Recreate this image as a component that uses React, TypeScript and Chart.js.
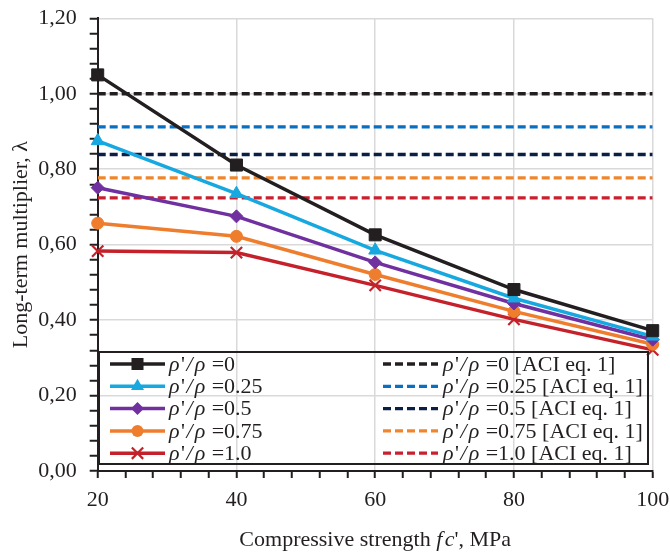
import React, { useEffect, useRef } from 'react';
import { Chart, registerables } from 'chart.js';

Chart.register(...registerables);

// ---- data ----
const strengths = [20, 40, 60, 80, 100];
const ratioLabels = ['0', '0.25', '0.5', '0.75', '1.0'];
const lambdaR0 = [1.05, 0.811, 0.626, 0.481, 0.372];
const lambdaR025 = [0.875, 0.735, 0.585, 0.458, 0.357];
const lambdaR05 = [0.751, 0.675, 0.553, 0.444, 0.348];
const lambdaR075 = [0.657, 0.622, 0.521, 0.423, 0.336];
const lambdaR10 = [0.583, 0.579, 0.492, 0.402, 0.321];
const aciValues = [1.0, 0.912, 0.839, 0.777, 0.724];
const xLimits = [20, 100];
const yLimits = [0, 1.2];

const FONT = '"Liberation Serif", "Times New Roman", serif';
const INK = '#231f20';

const solidColors = ['#231f20', '#17a8e0', '#7030a0', '#ef7d2e', '#c4212a'];
const dashColors = ['#231f20', '#0a6fc2', '#0b1e45', '#f0862c', '#c8202e'];
const pointStyles = ['rect', 'triangle', 'rectRot', 'circle', 'crossRot'];
const pointRadii = [8.5, 7.5, 6.5, 6, 8];
const seriesValues = [lambdaR0, lambdaR025, lambdaR05, lambdaR075, lambdaR10];

function drawMarker(ctx: CanvasRenderingContext2D, style: string, x: number, y: number, r: number, color: string) {
  ctx.save();
  ctx.fillStyle = color;
  ctx.strokeStyle = color;
  ctx.lineWidth = style === 'crossRot' ? 2.2 : 1;
  ctx.setLineDash([]);
  ctx.beginPath();
  if (style === 'rect') {
    const s = r * Math.SQRT1_2;
    ctx.rect(x - s, y - s, 2 * s, 2 * s);
    ctx.fill();
  } else if (style === 'triangle') {
    for (let k = 0; k < 3; k++) {
      const a = (k * 2 * Math.PI) / 3;
      const px = x + Math.sin(a) * r;
      const py = y - Math.cos(a) * r;
      if (k === 0) ctx.moveTo(px, py); else ctx.lineTo(px, py);
    }
    ctx.closePath();
    ctx.fill();
  } else if (style === 'rectRot') {
    ctx.moveTo(x, y - r);
    ctx.lineTo(x + r, y);
    ctx.lineTo(x, y + r);
    ctx.lineTo(x - r, y);
    ctx.closePath();
    ctx.fill();
  } else if (style === 'circle') {
    ctx.arc(x, y, r, 0, Math.PI * 2);
    ctx.fill();
  } else if (style === 'crossRot') {
    const o = r * Math.SQRT1_2;
    ctx.moveTo(x - o, y - o);
    ctx.lineTo(x + o, y + o);
    ctx.moveTo(x + o, y - o);
    ctx.lineTo(x - o, y + o);
    ctx.stroke();
  }
  ctx.restore();
}

type Piece = { t: string; it?: boolean; gap?: number };

function drawRich(ctx: CanvasRenderingContext2D, x: number, y: number, pieces: Piece[], size: number, align: 'left' | 'center' = 'left') {
  ctx.save();
  ctx.textBaseline = 'middle';
  ctx.textAlign = 'left';
  ctx.fillStyle = INK;
  let total = 0;
  for (const p of pieces) {
    ctx.font = `${p.it ? 'italic ' : ''}${size}px ${FONT}`;
    total += ctx.measureText(p.t).width + (p.gap || 0);
  }
  let cx = align === 'center' ? x - total / 2 : x;
  for (const p of pieces) {
    ctx.font = `${p.it ? 'italic ' : ''}${size}px ${FONT}`;
    ctx.fillText(p.t, cx, y);
    cx += ctx.measureText(p.t).width + (p.gap || 0);
  }
  ctx.restore();
}

function rhoPieces(label: string, suffix: string): Piece[] {
  return [
    { t: 'ρ', it: true, gap: 1.5 },
    { t: "'", gap: 1.5 },
    { t: '/', it: true, gap: 2 },
    { t: 'ρ', it: true, gap: 1 },
    { t: ' =' + label + suffix },
  ];
}

const decorPlugin = {
  id: 'decor',
  afterDraw(chart: any) {
    const ctx: CanvasRenderingContext2D = chart.ctx;
    const area = chart.chartArea;
    // y title
    ctx.save();
    ctx.translate(21, (area.top + area.bottom) / 2);
    ctx.rotate(-Math.PI / 2);
    ctx.font = `22px ${FONT}`;
    ctx.fillStyle = INK;
    ctx.textAlign = 'center';
    ctx.textBaseline = 'middle';
    ctx.fillText('Long-term multiplier, λ', 0, 0);
    ctx.restore();
    // x title
    drawRich(
      ctx,
      (area.left + area.right) / 2,
      540,
      [{ t: 'Compressive strength ' }, { t: 'f', it: true, gap: 2.5 }, { t: 'c', it: true }, { t: "', MPa" }],
      22,
      'center'
    );
    // legend box
    const bx = 99, by = 352, bw = 549, bh = 112;
    ctx.save();
    ctx.strokeStyle = INK;
    ctx.lineWidth = 2;
    ctx.strokeRect(bx, by, bw, bh);
    ctx.restore();
    for (let i = 0; i < 5; i++) {
      const ry = 364 + i * 22.3;
      // left column: solid with marker
      ctx.save();
      ctx.strokeStyle = solidColors[i];
      ctx.lineWidth = 3.5;
      ctx.beginPath();
      ctx.moveTo(110, ry);
      ctx.lineTo(165, ry);
      ctx.stroke();
      ctx.restore();
      drawMarker(ctx, pointStyles[i], 137.5, ry, pointRadii[i], solidColors[i]);
      drawRich(ctx, 169, ry + 1, rhoPieces(ratioLabels[i], ''), 22);
      // right column: dashed
      ctx.save();
      ctx.strokeStyle = dashColors[i];
      ctx.lineWidth = 3.3;
      ctx.setLineDash([8, 4]);
      ctx.beginPath();
      ctx.moveTo(383, ry);
      ctx.lineTo(438, ry);
      ctx.stroke();
      ctx.restore();
      drawRich(ctx, 443, ry + 1, rhoPieces(ratioLabels[i], ' [ACI eq. 1]'), 22);
    }
  },
};

const isMult = (v: number, step: number) => Math.abs(v / step - Math.round(v / step)) < 1e-6;

export default function App() {
  const ref = useRef<HTMLCanvasElement | null>(null);
  useEffect(() => {
    document.body.style.margin = '0';
    const canvas = ref.current;
    if (!canvas) return;
    const solidSets = seriesValues.map((vals, i) => ({
      label: 'ρ\'/ρ =' + ratioLabels[i],
      data: strengths.map((x, k) => ({ x, y: vals[k] })),
      borderColor: solidColors[i],
      backgroundColor: solidColors[i],
      borderWidth: 3.5,
      pointStyle: pointStyles[i],
      pointRadius: pointRadii[i],
      pointBorderWidth: pointStyles[i] === 'crossRot' ? 2.2 : 1,
      pointBackgroundColor: solidColors[i],
      pointBorderColor: solidColors[i],
      tension: 0,
      clip: false as any,
    }));
    const dashSets = aciValues.map((v, i) => ({
      label: 'ρ\'/ρ =' + ratioLabels[i] + ' [ACI eq. 1]',
      data: xLimits.map((x) => ({ x, y: v })),
      borderColor: dashColors[i],
      borderWidth: 3.3,
      borderDash: [8, 4],
      pointRadius: 0,
      tension: 0,
    }));
    const chart = new Chart(canvas, {
      type: 'line',
      data: { datasets: [...solidSets, ...dashSets] as any },
      options: {
        animation: false,
        responsive: false,
        maintainAspectRatio: false,
        layout: { padding: { top: 18.3, right: 17.3, left: 0, bottom: 0 } },
        plugins: { legend: { display: false }, tooltip: { enabled: false } },
        scales: {
          x: {
            type: 'linear',
            min: xLimits[0],
            max: xLimits[1],
            afterFit: (s: any) => {
              s.height = 81;
              s.paddingLeft = 0;
              s.paddingRight = 0;
            },
            ticks: {
              stepSize: 4,
              autoSkip: false,
              maxRotation: 0,
              padding: 9,
              color: INK,
              font: { family: FONT, size: 22 },
              callback: (v: any) => (isMult(Number(v), 20) ? String(v) : ''),
            },
            grid: {
              color: (c: any) => (c.tick && isMult(c.tick.value, 20) ? '#d9d9d9' : 'rgba(0,0,0,0)'),
              lineWidth: 1.5,
              tickColor: INK,
              tickLength: 7,
              tickWidth: 2,
            } as any,
            border: { color: INK, width: 2 },
          },
          y: {
            type: 'linear',
            min: yLimits[0],
            max: yLimits[1],
            afterFit: (s: any) => {
              s.width = 97.7;
              s.paddingTop = 0;
              s.paddingBottom = 0;
            },
            ticks: {
              stepSize: 0.04,
              autoSkip: false,
              padding: 13,
              color: INK,
              font: { family: FONT, size: 22 },
              callback: (v: any) => (isMult(Number(v), 0.2) ? Number(v).toFixed(2).replace('.', ',') : ''),
            },
            grid: {
              color: (c: any) => (c.tick && isMult(c.tick.value, 0.2) ? '#d9d9d9' : 'rgba(0,0,0,0)'),
              lineWidth: 1.5,
              tickColor: INK,
              tickLength: 8,
              tickWidth: 2,
            } as any,
            border: { color: INK, width: 2 },
          },
        },
      },
      plugins: [decorPlugin],
    });
    return () => chart.destroy();
  }, []);
  return <canvas ref={ref} width={670} height={552} style={{ display: 'block', width: 670, height: 552 }} />;
}
